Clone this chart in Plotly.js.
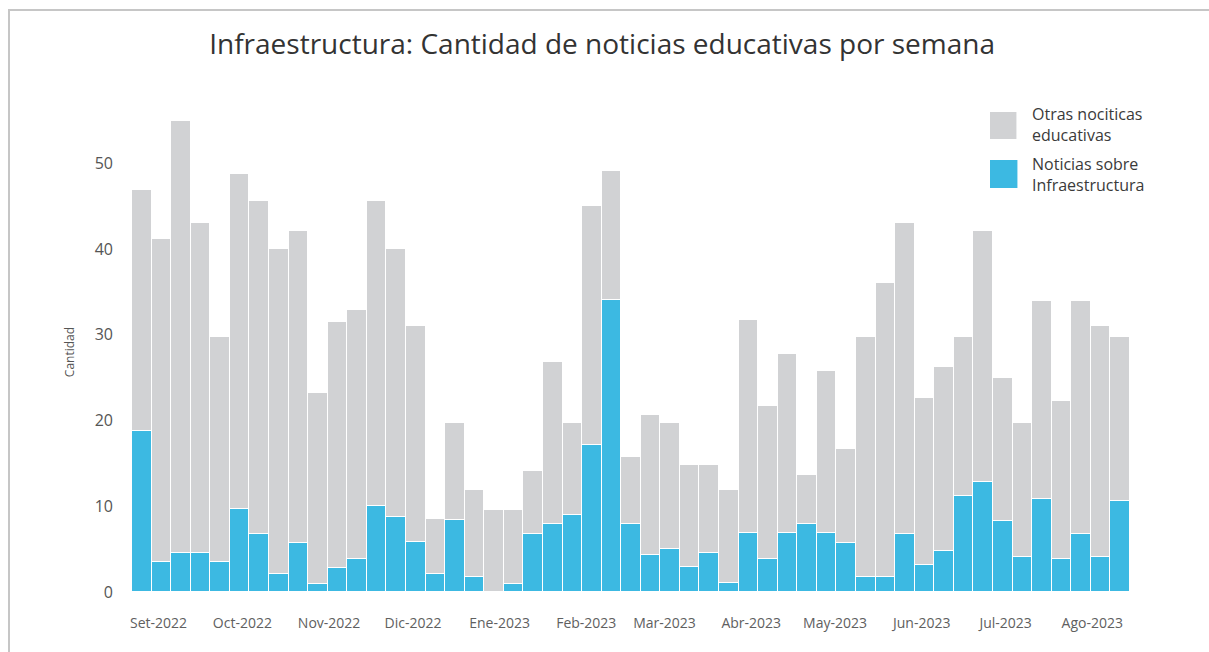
<!DOCTYPE html>
<html>
<head>
<meta charset="utf-8">
<script src="https://cdn.plot.ly/plotly-3.0.1.min.js"></script>
<style>
  html, body { margin: 0; padding: 0; background: #ffffff; }
  #frame { position: absolute; left: 8px; top: 9px; width: 1201px; height: 643px;
           border-top: 2px solid #c6c6c6; border-left: 2px solid #c6c6c6; box-sizing: border-box; }
  #chart { position: absolute; left: 0; top: 0; width: 1209px; height: 652px; }
</style>
</head>
<body>
<div id="frame"></div>
<div id="chart"></div>
<script>
// Week dates (one bar per week)
const weeks = [
  '2022-08-26','2022-09-02','2022-09-09','2022-09-16','2022-09-23','2022-09-30',
  '2022-10-07','2022-10-14','2022-10-21','2022-10-28',
  '2022-11-04','2022-11-11','2022-11-18','2022-11-25',
  '2022-12-02','2022-12-09','2022-12-16','2022-12-23','2022-12-30',
  '2023-01-06','2023-01-13','2023-01-20','2023-01-27',
  '2023-02-03','2023-02-10','2023-02-17','2023-02-24',
  '2023-03-03','2023-03-10','2023-03-17','2023-03-24','2023-03-31',
  '2023-04-07','2023-04-14','2023-04-21','2023-04-28',
  '2023-05-05','2023-05-12','2023-05-19','2023-05-26',
  '2023-06-02','2023-06-09','2023-06-16','2023-06-23','2023-06-30',
  '2023-07-07','2023-07-14','2023-07-21','2023-07-28',
  '2023-08-04','2023-08-11'
];

// Noticias sobre Infraestructura
const infraestructura = [
  18.8, 3.5, 4.6, 4.6, 3.5, 9.7, 6.8, 2.1, 5.7, 0.9,
  2.8, 3.9, 10.0, 8.7, 5.8, 2.1, 8.4, 1.7, 0, 0.9,
  6.8, 7.9, 9.0, 17.1, 34.1, 7.9, 4.3, 5.0, 2.9, 4.6,
  1.0, 6.9, 3.8, 6.9, 7.9, 6.9, 5.7, 1.8, 1.7, 6.8,
  3.1, 4.8, 11.2, 12.8, 8.3, 4.1, 10.9, 3.9, 6.8, 4.1,
  10.6
];

// Otras noticias educativas
const otras = [
  28.1, 37.7, 50.4, 38.4, 26.2, 39.1, 38.8, 37.9, 36.4, 22.3,
  28.7, 29.0, 35.6, 31.3, 25.2, 6.4, 11.3, 10.2, 9.6, 8.7,
  7.3, 18.9, 10.7, 27.9, 15.0, 7.8, 16.4, 14.7, 11.9, 10.2,
  10.9, 24.8, 17.9, 20.9, 5.8, 18.9, 11.0, 27.9, 34.3, 36.2,
  19.5, 21.4, 18.5, 29.3, 16.7, 15.6, 23.1, 18.4, 27.2, 26.9,
  19.1
];

const monthTicks = ['2022-09-01','2022-10-01','2022-11-01','2022-12-01','2023-01-01','2023-02-01',
                    '2023-03-01','2023-04-01','2023-05-01','2023-06-01','2023-07-01','2023-08-01'];
const monthLabels = ['Set-2022','Oct-2022','Nov-2022','Dic-2022','Ene-2023','Feb-2023',
                     'Mar-2023','Abr-2023','May-2023','Jun-2023','Jul-2023','Ago-2023'];

const nameOtras = 'Otras nociticas<br>educativas';
const nameInfra = 'Noticias sobre<br>Infraestructura';
const colorOtras = '#d1d2d4';
const colorInfra = '#3cb9e2';

const FONT = 'Open Sans, DejaVu Sans, sans-serif';

const traces = [
  {
    type: 'bar', x: weeks, y: infraestructura, name: nameInfra,
    marker: { color: colorInfra, line: { color: '#ffffff', width: 1.2 } },
    showlegend: false, hoverinfo: 'x+y+name'
  },
  {
    type: 'bar', x: weeks, y: otras, name: nameOtras,
    marker: { color: colorOtras, line: { color: '#ffffff', width: 1.2 } },
    showlegend: false, hoverinfo: 'x+y+name'
  }
];

const layout = {
  width: 1209, height: 652,
  paper_bgcolor: 'rgba(0,0,0,0)', plot_bgcolor: 'rgba(0,0,0,0)',
  margin: { l: 132, r: 79, t: 112, b: 60, pad: 0 },
  barmode: 'stack', bargap: 0,
  font: { family: FONT, color: '#555555' },
  title: {
    text: 'Infraestructura: Cantidad de noticias educativas por semana',
    font: { family: FONT, size: 28, color: '#333333' },
    x: 0.498, xref: 'container', xanchor: 'center',
    y: 0.932, yref: 'container', yanchor: 'middle'
  },
  xaxis: {
    type: 'date',
    range: ['2022-08-22 12:00', '2023-08-14 12:00'],
    tickmode: 'array', tickvals: monthTicks, ticktext: monthLabels,
    showgrid: false, zeroline: false, showline: false, ticks: '',
    ticklabelstandoff: 21,
    tickfont: { family: FONT, size: 14, color: '#606060' }
  },
  yaxis: {
    range: [0, 56], dtick: 10, tick0: 0,
    showgrid: false, zeroline: false, showline: false, ticks: '',
    ticklabelstandoff: 18,
    tickfont: { family: FONT, size: 16, color: '#555555' },
    title: { text: 'Cantidad', standoff: 17, font: { family: FONT, size: 12, color: '#555555' } }
  },
  shapes: [
    { type: 'rect', xref: 'paper', yref: 'paper', x0: 0.8597, x1: 0.8862, y0: 0.9438, y1: 1.0,
      fillcolor: colorOtras, line: { width: 0 } },
    { type: 'rect', xref: 'paper', yref: 'paper', x0: 0.8597, x1: 0.8872, y0: 0.8417, y1: 0.9,
      fillcolor: colorInfra, line: { width: 0 } }
  ],
  annotations: [
    { xref: 'paper', yref: 'paper', x: 0.8998, y: 0.974, xanchor: 'left', yanchor: 'middle',
      align: 'left', showarrow: false, text: nameOtras,
      font: { family: FONT, size: 16, color: '#3a3a3a' } },
    { xref: 'paper', yref: 'paper', x: 0.8998, y: 0.8698, xanchor: 'left', yanchor: 'middle',
      align: 'left', showarrow: false, text: nameInfra,
      font: { family: FONT, size: 16, color: '#3a3a3a' } }
  ]
};

Plotly.newPlot('chart', traces, layout, { displayModeBar: false, staticPlot: false });
</script>
</body>
</html>
